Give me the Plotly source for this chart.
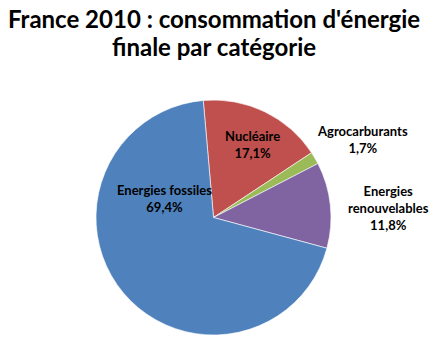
import plotly.graph_objects as go

# Final energy consumption in France, 2010, by category (percent)
categories = ["Nucléaire", "Agrocarburants", "Energies\nrenouvelables", "Energies fossiles"]
shares = [17.1, 1.7, 11.8, 69.4]
colors = ["#C0504D", "#9BBB59", "#8064A2", "#4F81BD"]

title_lines = ["France 2010 : consommation d'énergie", "finale par catégorie"]

# Label anchor points in pixels (x, y from top), one per category
label_px = [(252, 144), (362, 139), (388, 208), (164, 198)]
title_px = [(213.5, 19), (213.5, 47)]

W, H = 442, 343
FONT = "Lato"


def fmt_pct(v):
    return f"{v:.1f}".replace(".", ",") + "%"


fig = go.Figure(
    go.Pie(
        labels=[c.replace("\n", " ") for c in categories],
        values=shares,
        sort=False,
        direction="clockwise",
        rotation=-5,
        marker=dict(colors=colors, line=dict(color="rgba(255,255,255,0.6)", width=1)),
        textinfo="none",
        hoverinfo="label+percent",
        showlegend=False,
        domain=dict(x=[96 / W, 331 / W], y=[(H - 335) / H, (H - 100) / H]),
    )
)

for cat, val, (px, py) in zip(categories, shares, label_px):
    fig.add_annotation(
        x=px / W,
        y=1 - py / H,
        xref="paper",
        yref="paper",
        text="<br>".join(cat.split("\n")) + "<br>" + fmt_pct(val),
        showarrow=False,
        align="center",
        xanchor="center",
        yanchor="middle",
        font=dict(family=FONT, size=13, color="#000000", weight="bold"),
    )

# Two-line chart title
for line, (px, py) in zip(title_lines, title_px):
    fig.add_annotation(
        x=px / W,
        y=1 - py / H,
        xref="paper",
        yref="paper",
        text=line,
        showarrow=False,
        xanchor="center",
        yanchor="middle",
        font=dict(family=FONT, size=24, color="#000000", weight="bold"),
    )

fig.update_layout(
    width=W,
    height=H,
    margin=dict(l=0, r=0, t=0, b=0),
    paper_bgcolor="white",
    plot_bgcolor="white",
)

fig.write_html("out.html")
